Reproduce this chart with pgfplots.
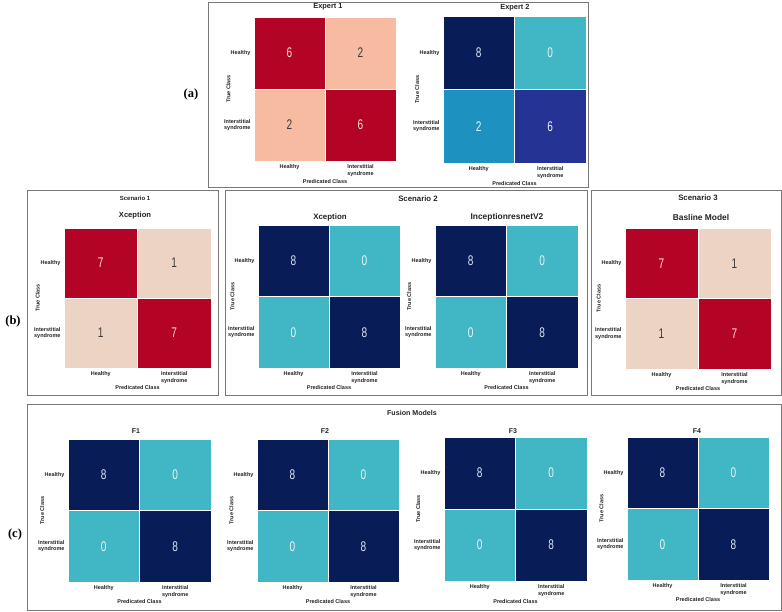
\documentclass[border=0pt]{standalone}
\usepackage{pgfplots}
\pgfplotsset{compat=1.18}
\usepackage{fontspec}
\setmainfont{Liberation Sans}
\newfontfamily\numfont[FakeStretch=0.72]{Liberation Sans}
\newfontfamily\serifb{Liberation Serif}

\definecolor{cmred}{RGB}{180,4,38}
\definecolor{cmredtxt}{RGB}{245,222,215}
\definecolor{cmsalmon}{RGB}{246,187,160}
\definecolor{cmsalmontxt}{RGB}{60,60,60}
\definecolor{cmpink}{RGB}{236,211,196}
\definecolor{cmpinktxt}{RGB}{60,60,60}
\definecolor{cmnavy}{RGB}{8,29,88}
\definecolor{cmnavytxt}{RGB}{220,230,240}
\definecolor{cmcyan}{RGB}{65,182,196}
\definecolor{cmcyantxt}{RGB}{232,246,246}
\definecolor{cmblue}{RGB}{29,145,192}
\definecolor{cmbluetxt}{RGB}{232,246,250}
\definecolor{cmindigo}{RGB}{37,52,148}
\definecolor{cmindigotxt}{RGB}{235,238,250}
\definecolor{boxgray}{RGB}{120,120,120}
\definecolor{lbl}{RGB}{35,35,35}

\newcommand\lblfont{\fontsize{5.5}{6.5}\selectfont\bfseries}

\pgfplotsset{
  numstyle/.style={only marks, mark=none, nodes near coords,
    point meta=explicit symbolic, nodes near coords align=center,
    every node near coord/.append style={text=#1txt,
      font=\numfont\fontsize{14}{14}\selectfont, anchor=center}},
  cmaxis/.style={scale only axis, xmin=0, xmax=2, ymin=0, ymax=2,
    axis line style={draw=none}, clip=false,
    xtick={0.5,1.5}, ytick={0.5,1.5},
    xticklabels={Healthy,{Interstitial\\syndrome}},
    yticklabels={{Interstitial\\syndrome},Healthy},
    major tick length=0pt,
    tick label style={font=\lblfont, align=center, text=lbl},
    xlabel={Predicated Class}, ylabel={True Class},
    xlabel style={at={(axis description cs:0.5,-0.14)}, anchor=center, font=\lblfont, text=lbl},
    ylabel style={at={(axis description cs:-0.18,0.5)}, anchor=center, font=\lblfont, text=lbl},
  },
}

% cells: TL, TR, BL, BR
\newcommand\cellTL[2]{\addplot[fill=#1,draw=white,line width=0.6pt] coordinates {(0,1) (1,1) (1,2) (0,2)} -- cycle;
  \addplot[numstyle=#1] coordinates {(0.5,1.5)[#2]};}
\newcommand\cellTR[2]{\addplot[fill=#1,draw=white,line width=0.6pt] coordinates {(1,1) (2,1) (2,2) (1,2)} -- cycle;
  \addplot[numstyle=#1] coordinates {(1.5,1.5)[#2]};}
\newcommand\cellBL[2]{\addplot[fill=#1,draw=white,line width=0.6pt] coordinates {(0,0) (1,0) (1,1) (0,1)} -- cycle;
  \addplot[numstyle=#1] coordinates {(0.5,0.5)[#2]};}
\newcommand\cellBR[2]{\addplot[fill=#1,draw=white,line width=0.6pt] coordinates {(1,0) (2,0) (2,1) (1,1)} -- cycle;
  \addplot[numstyle=#1] coordinates {(1.5,0.5)[#2]};}

\newcommand\typeE{\cellTL{cmred}{6}\cellTR{cmsalmon}{2}\cellBL{cmsalmon}{2}\cellBR{cmred}{6}}
\newcommand\typeEE{\cellTL{cmnavy}{8}\cellTR{cmcyan}{0}\cellBL{cmblue}{2}\cellBR{cmindigo}{6}}
\newcommand\typeS{\cellTL{cmred}{7}\cellTR{cmpink}{1}\cellBL{cmpink}{1}\cellBR{cmred}{7}}
\newcommand\typeF{\cellTL{cmnavy}{8}\cellTR{cmcyan}{0}\cellBL{cmcyan}{0}\cellBR{cmnavy}{8}}

\newcommand\cm[5]{\begin{axis}[cmaxis, at={(#1pt,#2pt)}, anchor=north west, width=#3pt, height=#4pt]#5\end{axis}}

\begin{document}
\begin{tikzpicture}[x=1pt,y=1pt]
% frames
\draw[boxgray, line width=0.8pt] (208,610) rectangle (588,425);
\draw[boxgray, line width=0.8pt] (27,422) rectangle (218,217);
\draw[boxgray, line width=0.8pt] (225,422) rectangle (587,217);
\draw[boxgray, line width=0.8pt] (591,422) rectangle (781,217);
\draw[boxgray, line width=0.8pt] (27,208) rectangle (781,2);

% matrices
\cm{254}{595}{142}{144}{\typeE}
\cm{443}{596}{143}{147}{\typeEE}
\cm{64}{384}{147}{140}{\typeS}
\cm{258}{387}{142}{143}{\typeF}
\cm{435}{387}{143}{143}{\typeF}
\cm{625}{384}{146}{141}{\typeS}
\cm{68}{173}{143}{143}{\typeF}
\cm{257}{173}{142}{143}{\typeF}
\cm{444}{175}{143}{144}{\typeF}
\cm{627}{175}{142}{143}{\typeF}

% titles
\begin{scope}[every node/.style={text=lbl}]
\node[font=\fontsize{7.4}{8}\selectfont\bfseries] at (328,605) {Expert 1};
\node[font=\fontsize{7.4}{8}\selectfont\bfseries] at (515,604) {Expert 2};
\node[font=\fontsize{6}{7}\selectfont\bfseries] at (135,414) {Scenario 1};
\node[font=\fontsize{7.6}{8}\selectfont\bfseries] at (135,396) {Xception};
\node[font=\fontsize{7.8}{8}\selectfont\bfseries] at (418,413) {Scenario 2};
\node[font=\fontsize{7.9}{8}\selectfont\bfseries] at (330,395) {Xception};
\node[font=\fontsize{8.4}{9}\selectfont\bfseries] at (507,395) {InceptionresnetV2};
\node[font=\fontsize{7.8}{8}\selectfont\bfseries] at (698,414) {Scenario 3};
\node[font=\fontsize{8.4}{9}\selectfont\bfseries] at (701,394) {Basline Model};
\node[font=\fontsize{7.1}{8}\selectfont\bfseries] at (412,199) {Fusion Models};
\node[font=\fontsize{7}{8}\selectfont\bfseries] at (136,181) {F1};
\node[font=\fontsize{7}{8}\selectfont\bfseries] at (325,181) {F2};
\node[font=\fontsize{7}{8}\selectfont\bfseries] at (513,181) {F3};
\node[font=\fontsize{7}{8}\selectfont\bfseries] at (697,181) {F4};
\end{scope}

\node[font=\serifb\fontsize{12.5}{13}\selectfont\bfseries] at (191,517) {(a)};
\node[font=\serifb\fontsize{12.5}{13}\selectfont\bfseries] at (13,290) {(b)};
\node[font=\serifb\fontsize{12.5}{13}\selectfont\bfseries] at (15,77) {(c)};

\pgfresetboundingbox
\path (0,0) rectangle (782,612);
\end{tikzpicture}
\end{document}
